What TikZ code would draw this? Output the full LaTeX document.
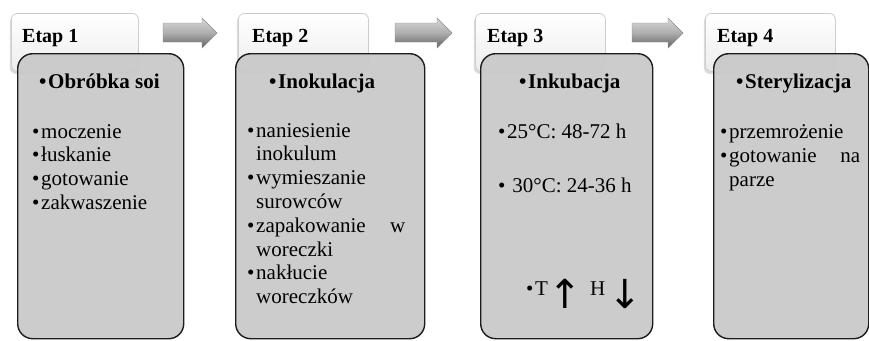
\documentclass[tikz,border=0pt]{standalone}
\usepackage{fontspec}
\setmainfont{Liberation Serif}
\newfontfamily\arrowfont{DejaVu Sans}
\usetikzlibrary{shadows}
\definecolor{panelgray}{RGB}{201,201,201}
\definecolor{panelborder}{RGB}{28,28,28}
\definecolor{hdrborder}{RGB}{205,205,205}
\newcommand\bul{\makebox[9pt][l]{•}}
\tikzset{
  hdr/.style={draw=hdrborder, line width=0.8pt, rounded corners=6pt,
    top color=white, bottom color=black!7, anchor=north west,
    drop shadow={shadow xshift=-1.5pt, shadow yshift=-2.5pt, opacity=0.35, fill=black!40}},
  panel/.style={draw=panelborder, line width=1.4pt, rounded corners=15pt,
    fill=panelgray, fill opacity=0.93, anchor=north west},
  blockarrow/.style={draw=black!45, line width=0.4pt, top color=black!15, bottom color=black!62, middle color=black!32},
  etap/.style={font=\fontsize{20}{24}\selectfont\bfseries, anchor=base west, inner sep=0pt},
  ttl/.style={font=\fontsize{21}{24}\selectfont\bfseries, anchor=base west, inner sep=0pt},
  body/.style={font=\fontsize{21}{24}\selectfont, anchor=base west, inner sep=0pt},
  updown/.style={font=\fontsize{40}{44}\selectfont\arrowfont, inner sep=0pt, anchor=center}
}
\begin{document}
\begin{tikzpicture}[x=1pt,y=-1pt]
\useasboundingbox (0,0) rectangle (869,340);
\fill[white] (0,0) rectangle (869,340);

% block arrows
\shade[blockarrow] (163,23) -- (202,23) -- (202,18) -- (217,33) -- (202,48) -- (202,42) -- (163,42) -- cycle;
\shade[blockarrow] (395,23) -- (437,23) -- (437,18) -- (452,33) -- (437,48) -- (437,42) -- (395,42) -- cycle;
\shade[blockarrow] (632,23) -- (668,23) -- (668,18) -- (683,33) -- (668,48) -- (668,42) -- (632,42) -- cycle;

% header boxes
\node[hdr, minimum width=127pt, minimum height=58pt] (h1) at (11,13) {};
\node[hdr, minimum width=130pt, minimum height=58pt] (h2) at (238,13) {};
\node[hdr, minimum width=130pt, minimum height=58pt] (h3) at (475,13) {};
\node[hdr, minimum width=130pt, minimum height=58pt] (h4) at (705,13) {};
\node[etap] (e1) at (22,42) {Etap 1};
\node[etap] (e2) at (252,42) {Etap 2};
\node[etap] (e3) at (487,42) {Etap 3};
\node[etap] (e4) at (717,42) {Etap 4};

% gray panels
\node[panel, minimum width=166pt, minimum height=285pt] (p1) at (17,53) {};
\node[panel, minimum width=189pt, minimum height=285pt] (p2) at (235,53) {};
\node[panel, minimum width=172pt, minimum height=285pt] (p3) at (480,53) {};
\node[panel, minimum width=155pt, minimum height=285pt] (p4) at (713,53) {};

% panel 1
\node[ttl] (t1) at (39,88) {\bul Obróbka soi};
\node[body] (a1) at (32,138) {\bul moczenie};
\node[body] (a2) at (32,161.8) {\bul łuskanie};
\node[body] (a3) at (32,185.6) {\bul gotowanie};
\node[body] (a4) at (32,209.4) {\bul zakwaszenie};

% panel 2
\node[ttl] (t2) at (269,88) {\bul Inokulacja};
\node[body] (b1) at (247,137) {\bul naniesienie};
\node[body] (b1x) at (256,160.8) {inokulum};
\node[body] (b2) at (247,184.6) {\bul wymieszanie};
\node[body] (b2x) at (256,208.4) {surowców};
\node[body] (b3) at (247,232.2) {\bul\makebox[149pt]{zapakowanie\hfill w}};
\node[body] (b3x) at (256,256) {woreczki};
\node[body] (b4) at (247,279.8) {\bul nakłucie};
\node[body] (b4x) at (256,303.6) {woreczków};

% panel 3
\node[ttl] (t3) at (519,88) {\bul Inkubacja};
\node[body] (c1) at (498,138) {\bul 25°C: 48-72 h};
\node[body] (c2) at (498,192) {\bul\ 30°C: 24-36 h};
\node[body] (c3) at (526,295) {\bul T};
\node[updown] (up) at (565,294) {↑};
\node[body] (c4) at (590,295) {H};
\node[updown] (down) at (625,294) {↓};

% panel 4
\node[ttl] (t4) at (736,88) {\bul Sterylizacja};
\node[body] (d1) at (720,138) {\bul przemrożenie};
\node[body] (d2) at (720,162) {\bul\makebox[131pt]{gotowanie\hfill na}};
\node[body] (d2x) at (729,186) {parze};
\end{tikzpicture}
\end{document}
